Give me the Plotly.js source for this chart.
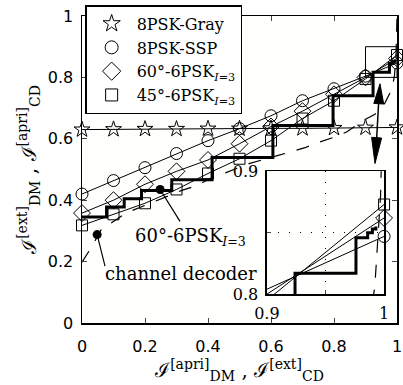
<!DOCTYPE html>
<html>
<head>
<meta charset="utf-8">
<script src="https://cdn.plot.ly/plotly-3.0.1.min.js"></script>
<style>html,body{margin:0;padding:0;background:#fff;}#chart{width:403px;height:385px;}</style>
</head>
<body>
<div id="chart"></div>
<script>
// ---- data ----
const xs = [0, 0.1, 0.2, 0.3, 0.4, 0.5, 0.6, 0.7, 0.8, 0.9, 1.0];
const gray8  = [0.630, 0.631, 0.632, 0.632, 0.633, 0.633, 0.634, 0.634, 0.635, 0.636, 0.637];
const ssp8   = [0.420, 0.464, 0.506, 0.552, 0.594, 0.633, 0.675, 0.724, 0.763, 0.804, 0.847];
const psk60  = [0.358, 0.400, 0.452, 0.494, 0.531, 0.584, 0.640, 0.690, 0.745, 0.800, 0.862];
const psk45  = [0.318, 0.354, 0.390, 0.435, 0.487, 0.535, 0.594, 0.666, 0.724, 0.795, 0.873];

// decoding trajectory (60°-6PSK, I=3)
const trajX = [0, 0.078, 0.078, 0.134, 0.134, 0.189, 0.189, 0.285, 0.285, 0.413, 0.413, 0.606, 0.606, 0.797, 0.797, 0.924, 0.924, 0.976, 0.976, 0.986, 0.986, 0.990, 0.990, 0.993, 0.993];
const trajY = [0.345, 0.345, 0.378, 0.378, 0.405, 0.405, 0.432, 0.432, 0.467, 0.467, 0.539, 0.539, 0.643, 0.643, 0.740, 0.740, 0.817, 0.817, 0.846, 0.846, 0.850, 0.850, 0.853, 0.853, 0.855];

// channel decoder curve (dashed)
const decX = [0, 0.03, 0.063, 0.092, 0.137, 0.168, 0.24, 0.317, 0.365, 0.413, 0.457, 0.533, 0.62, 0.655, 0.708, 0.75, 0.80, 0.84, 0.892, 0.93, 0.962, 0.984, 0.992, 0.997, 1.0];
const decY = [0.198, 0.247, 0.308, 0.325, 0.357, 0.37, 0.40, 0.432, 0.448, 0.474, 0.49, 0.52, 0.545, 0.555, 0.571, 0.588, 0.605, 0.622, 0.659, 0.68, 0.717, 0.763, 0.805, 0.88, 1.0];

// label anchor dots
const dotX = [0.048, 0.248];
const dotY = [0.288, 0.435];

const names = ['8PSK-Gray', '8PSK-SSP', '60°-6PSK<sub><i>I</i>=3</sub>', '45°-6PSK<sub><i>I</i>=3</sub>'];
const series = [gray8, ssp8, psk60, psk45];
const symbols = ['star-open', 'circle-open', 'diamond-open', 'square-open'];
const msizes = [12, 12, 13, 11];

const K = 'black';
const traces = [];

// main plot
traces.push({x: decX, y: decY, mode: 'lines', line: {color: K, width: 1.2, dash: '13px,12px'}, showlegend: false, hoverinfo: 'skip'});
traces.push({x: trajX, y: trajY, mode: 'lines', line: {color: K, width: 3}, showlegend: false, hoverinfo: 'skip'});
series.forEach((s, i) => {
  traces.push({x: xs, y: s, mode: 'lines+markers', cliponaxis: false,
    line: {color: K, width: 1},
    marker: {symbol: symbols[i], size: msizes[i], color: K, line: {width: 1, color: K}},
    showlegend: false, hoverinfo: 'skip'});
});
traces.push({x: dotX, y: dotY, mode: 'markers', marker: {size: 9, color: K}, showlegend: false, hoverinfo: 'skip'});

// inset
traces.push({x: decX, y: decY, xaxis: 'x2', yaxis: 'y2', mode: 'lines', line: {color: K, width: 1.2, dash: '13px,12px'}, showlegend: false, hoverinfo: 'skip'});
traces.push({x: trajX, y: trajY, xaxis: 'x2', yaxis: 'y2', mode: 'lines', line: {color: K, width: 3}, showlegend: false, hoverinfo: 'skip'});
[1, 2, 3].forEach(i => {
  traces.push({x: xs, y: series[i], xaxis: 'x2', yaxis: 'y2', mode: 'lines', line: {color: K, width: 1}, showlegend: false, hoverinfo: 'skip'});
  traces.push({x: xs.slice(-1), y: series[i].slice(-1), xaxis: 'x2', yaxis: 'y2', mode: 'markers', cliponaxis: false,
    marker: {symbol: symbols[i], size: msizes[i], color: K, line: {width: 1, color: K}}, showlegend: false, hoverinfo: 'skip'});
});

// legend-only entries (markers only)
series.forEach((s, i) => {
  traces.push({x: [null], y: [null], mode: 'markers', name: names[i],
    marker: {symbol: symbols[i], size: msizes[i] + 1, color: K, line: {width: 1, color: K}}});
});

const serif = 'DejaVu Serif, serif';
const sans = 'DejaVu Sans, sans-serif';

function px2x(p) { return (p - 82) / 315; }
function px2y(p) { return (323 - p) / 308; }

const layout = {
  width: 403, height: 385, autosize: false,
  margin: {l: 82, r: 6, t: 15, b: 62, pad: 0},
  paper_bgcolor: '#ffffff', plot_bgcolor: '#fffffe',
  showlegend: true,
  legend: {x: 0.01, y: 1.032, xanchor: 'left', yanchor: 'top', bgcolor: 'white',
    bordercolor: K, borderwidth: 1.5, font: {family: serif, size: 16, color: K},
    tracegroupgap: 0, itemwidth: 40},
  xaxis: {domain: [0, 1], range: [0, 1], dtick: 0.2, tick0: 0, ticks: 'inside', ticklen: 5, tickwidth: 1,
    showline: true, linewidth: 1.5, linecolor: K, mirror: 'ticks', showgrid: false, zeroline: false,
    tickfont: {family: sans, size: 16, color: K}, ticklabelstandoff: 8,
    title: {text: 'ℐ<sup>[apri]</sup><sub>DM</sub> , ℐ<sup>[ext]</sup><sub>CD</sub>', font: {family: serif, size: 20, color: K}, standoff: 4}},
  yaxis: {domain: [0, 1], range: [0, 1], dtick: 0.2, tick0: 0, ticks: 'inside', ticklen: 5, tickwidth: 1,
    showline: true, linewidth: 1.5, linecolor: K, mirror: 'ticks', showgrid: false, zeroline: false,
    tickfont: {family: sans, size: 16, color: K}, ticklabelstandoff: 4,
    title: {text: 'ℐ<sup>[ext]</sup><sub>DM</sub> , ℐ<sup>[apri]</sup><sub>CD</sub>', font: {family: serif, size: 20, color: K}, standoff: 6}},
  xaxis2: {domain: [0.587, 0.959], range: [0.9, 1], anchor: 'y2', tickvals: [0.9, 0.95, 1], ticktext: ['0.9', '', '1'],
    ticks: 'inside', ticklen: 4, showline: true, linewidth: 1.5, linecolor: K, mirror: true,
    showgrid: true, gridcolor: K, gridwidth: 1, griddash: '1px,10px', zeroline: false,
    tickfont: {family: serif, size: 16, color: K}, ticklabelstandoff: 4},
  yaxis2: {domain: [0.094, 0.494], range: [0.8, 0.9], anchor: 'x2', tickvals: [0.8, 0.85, 0.9], ticktext: ['0.8', '', '0.9'],
    ticks: 'inside', ticklen: 4, showline: true, linewidth: 1.5, linecolor: K, mirror: true,
    showgrid: true, gridcolor: K, gridwidth: 1, griddash: '1px,10px', zeroline: false,
    tickfont: {family: serif, size: 16, color: K}, ticklabelstandoff: 4},
  shapes: [
    {type: 'rect', xref: 'x', yref: 'y', x0: 0.9, x1: 1.0, y0: 0.8, y1: 0.9, line: {color: K, width: 1}},
    {type: 'line', xref: 'x', yref: 'y', x0: dotX[1], y0: dotY[1], x1: px2x(180), y1: px2y(221), line: {color: K, width: 1.2}},
    {type: 'line', xref: 'x', yref: 'y', x0: dotX[0], y0: dotY[0], x1: px2x(105), y1: px2y(266), line: {color: K, width: 1.2}},
    // double-headed arrow
    {type: 'line', xref: 'x', yref: 'y', x0: px2x(379), y0: px2y(95), x1: px2x(376), y1: px2y(150), line: {color: K, width: 1.5}},
    {type: 'path', xref: 'x', yref: 'y', fillcolor: K, line: {color: K, width: 1},
      path: `M${px2x(380)},${px2y(83)} L${px2x(383.7)},${px2y(103.3)} L${px2x(373.8)},${px2y(102.7)} Z`},
    {type: 'path', xref: 'x', yref: 'y', fillcolor: K, line: {color: K, width: 1},
      path: `M${px2x(375)},${px2y(163)} L${px2x(381.6)},${px2y(137.4)} L${px2x(371.6)},${px2y(136.7)} Z`}
  ],
  annotations: [
    {xref: 'x', yref: 'y', x: px2x(190), y: px2y(237), text: '60°-6PSK<sub><i>I</i>=3</sub>', showarrow: false,
      font: {family: serif, size: 18, color: K}},
    {xref: 'x', yref: 'y', x: px2x(181), y: px2y(273), text: 'channel decoder', showarrow: false,
      font: {family: serif, size: 18, color: K}}
  ]
};

Plotly.newPlot('chart', traces, layout, {staticPlot: true, displayModeBar: false});
</script>
</body>
</html>
